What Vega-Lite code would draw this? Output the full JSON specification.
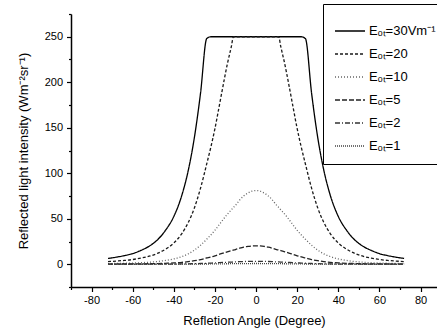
{
  "$schema": "https://vega.github.io/schema/vega-lite/v6.json",
  "width": 366,
  "height": 273,
  "autosize": {"type": "none"},
  "padding": {"left": 71, "top": 14, "right": 0, "bottom": 47},
  "background": "white",
  "config": {
    "view": {"stroke": null},
    "font": "Liberation Sans",
    "axis": {"domainColor": "black", "tickColor": "black", "labelColor": "black", "titleColor": "black", "grid": false, "labelFontSize": 11, "titleFontSize": 13, "titleFontWeight": "normal", "domainWidth": 1.5, "tickWidth": 1.2}
  },
  "data": {"values": [
    {"x": -72, "30": 6.4, "20": 2.9, "10": 0.71, "5": 0.18, "2": 0.03, "1": 0.007},
    {"x": -68, "30": 7.8, "20": 3.5, "10": 0.87, "5": 0.22, "2": 0.035, "1": 0.009},
    {"x": -64, "30": 9.5, "20": 4.2, "10": 1.06, "5": 0.27, "2": 0.04, "1": 0.011},
    {"x": -60, "30": 11.7, "20": 5.2, "10": 1.3, "5": 0.32, "2": 0.05, "1": 0.013},
    {"x": -56, "30": 15.2, "20": 6.8, "10": 1.7, "5": 0.42, "2": 0.07, "1": 0.017},
    {"x": -52, "30": 19.8, "20": 8.8, "10": 2.2, "5": 0.55, "2": 0.09, "1": 0.022},
    {"x": -48, "30": 26.7, "20": 11.9, "10": 3.0, "5": 0.74, "2": 0.12, "1": 0.03},
    {"x": -44, "30": 37.4, "20": 16.6, "10": 4.2, "5": 1.04, "2": 0.17, "1": 0.042},
    {"x": -40, "30": 52.5, "20": 23.3, "10": 5.8, "5": 1.46, "2": 0.23, "1": 0.058},
    {"x": -36, "30": 76.5, "20": 34.0, "10": 8.5, "5": 2.1, "2": 0.34, "1": 0.085},
    {"x": -33, "30": 102.8, "20": 45.7, "10": 11.4, "5": 2.9, "2": 0.46, "1": 0.11},
    {"x": -30, "30": 139.2, "20": 61.9, "10": 15.5, "5": 3.9, "2": 0.62, "1": 0.15},
    {"x": -27, "30": 188.1, "20": 83.6, "10": 20.9, "5": 5.2, "2": 0.84, "1": 0.21},
    {"x": -24, "30": 248, "20": 110.2, "10": 27.5, "5": 6.9, "2": 1.1, "1": 0.28},
    {"x": -22, "30": 250, "20": 128.6, "10": 32.2, "5": 8.0, "2": 1.29, "1": 0.32},
    {"x": -20, "30": 250, "20": 149, "10": 37.3, "5": 9.3, "2": 1.49, "1": 0.37},
    {"x": -18, "30": 250, "20": 172.7, "10": 43.2, "5": 10.8, "2": 1.73, "1": 0.43},
    {"x": -16, "30": 250, "20": 196.7, "10": 49.2, "5": 12.3, "2": 1.97, "1": 0.49},
    {"x": -14, "30": 250, "20": 219.7, "10": 54.9, "5": 13.7, "2": 2.2, "1": 0.55},
    {"x": -12, "30": 250, "20": 239.4, "10": 59.9, "5": 15.0, "2": 2.39, "1": 0.6},
    {"x": -11, "30": 250, "20": 250, "10": 62.5, "5": 15.6, "2": 2.5, "1": 0.63},
    {"x": -10, "30": 250, "20": 250, "10": 64.8, "5": 16.2, "2": 2.59, "1": 0.65},
    {"x": -8, "30": 250, "20": 250, "10": 70.5, "5": 17.6, "2": 2.82, "1": 0.7},
    {"x": -6, "30": 250, "20": 250, "10": 75, "5": 18.8, "2": 3.0, "1": 0.75},
    {"x": -4, "30": 250, "20": 250, "10": 78.2, "5": 19.6, "2": 3.13, "1": 0.78},
    {"x": -2, "30": 250, "20": 250, "10": 80.3, "5": 20.1, "2": 3.21, "1": 0.8},
    {"x": 0, "30": 250, "20": 250, "10": 81, "5": 20.3, "2": 3.24, "1": 0.81},
    {"x": 2, "30": 250, "20": 250, "10": 80.3, "5": 20.1, "2": 3.21, "1": 0.8},
    {"x": 4, "30": 250, "20": 250, "10": 78.2, "5": 19.6, "2": 3.13, "1": 0.78},
    {"x": 6, "30": 250, "20": 250, "10": 75, "5": 18.8, "2": 3.0, "1": 0.75},
    {"x": 8, "30": 250, "20": 250, "10": 70.5, "5": 17.6, "2": 2.82, "1": 0.7},
    {"x": 10, "30": 250, "20": 250, "10": 64.8, "5": 16.2, "2": 2.59, "1": 0.65},
    {"x": 11, "30": 250, "20": 250, "10": 62.5, "5": 15.6, "2": 2.5, "1": 0.63},
    {"x": 12, "30": 250, "20": 239.4, "10": 59.9, "5": 15.0, "2": 2.39, "1": 0.6},
    {"x": 14, "30": 250, "20": 219.7, "10": 54.9, "5": 13.7, "2": 2.2, "1": 0.55},
    {"x": 16, "30": 250, "20": 196.7, "10": 49.2, "5": 12.3, "2": 1.97, "1": 0.49},
    {"x": 18, "30": 250, "20": 172.7, "10": 43.2, "5": 10.8, "2": 1.73, "1": 0.43},
    {"x": 20, "30": 250, "20": 149, "10": 37.3, "5": 9.3, "2": 1.49, "1": 0.37},
    {"x": 22, "30": 250, "20": 128.6, "10": 32.2, "5": 8.0, "2": 1.29, "1": 0.32},
    {"x": 24, "30": 248, "20": 110.2, "10": 27.5, "5": 6.9, "2": 1.1, "1": 0.28},
    {"x": 27, "30": 188.1, "20": 83.6, "10": 20.9, "5": 5.2, "2": 0.84, "1": 0.21},
    {"x": 30, "30": 139.2, "20": 61.9, "10": 15.5, "5": 3.9, "2": 0.62, "1": 0.15},
    {"x": 33, "30": 102.8, "20": 45.7, "10": 11.4, "5": 2.9, "2": 0.46, "1": 0.11},
    {"x": 36, "30": 76.5, "20": 34.0, "10": 8.5, "5": 2.1, "2": 0.34, "1": 0.085},
    {"x": 40, "30": 52.5, "20": 23.3, "10": 5.8, "5": 1.46, "2": 0.23, "1": 0.058},
    {"x": 44, "30": 37.4, "20": 16.6, "10": 4.2, "5": 1.04, "2": 0.17, "1": 0.042},
    {"x": 48, "30": 26.7, "20": 11.9, "10": 3.0, "5": 0.74, "2": 0.12, "1": 0.03},
    {"x": 52, "30": 19.8, "20": 8.8, "10": 2.2, "5": 0.55, "2": 0.09, "1": 0.022},
    {"x": 56, "30": 15.2, "20": 6.8, "10": 1.7, "5": 0.42, "2": 0.07, "1": 0.017},
    {"x": 60, "30": 11.7, "20": 5.2, "10": 1.3, "5": 0.32, "2": 0.05, "1": 0.013},
    {"x": 64, "30": 9.5, "20": 4.2, "10": 1.06, "5": 0.27, "2": 0.04, "1": 0.011},
    {"x": 68, "30": 7.8, "20": 3.5, "10": 0.87, "5": 0.22, "2": 0.035, "1": 0.009},
    {"x": 72, "30": 6.4, "20": 2.9, "10": 0.71, "5": 0.18, "2": 0.03, "1": 0.007}
  ]},
  "transform": [{"fold": ["30", "20", "10", "5", "2", "1"], "as": ["series", "value"]}],
  "mark": {"type": "line", "interpolate": "monotone", "strokeWidth": 1.3, "clip": true},
  "encoding": {
    "x": {"field": "x", "type": "quantitative",
      "scale": {"domain": [-90, 88], "nice": false, "zero": false},
      "axis": {"values": [-90, -80, -70, -60, -50, -40, -30, -20, -10, 0, 10, 20, 30, 40, 50, 60, 70, 80],
        "labelExpr": "datum.value % 20 === 0 ? '' + datum.value : ''",
        "tickSize": {"condition": {"test": "datum.value % 20 !== 0", "value": 2.5}, "value": 4.5},
        "labelPadding": 3, "labelFlush": false, "labelOverlap": false,
        "title": "Refletion Angle (Degree)", "titlePadding": 9}},
    "y": {"field": "value", "type": "quantitative",
      "scale": {"domain": [-25, 275], "nice": false, "zero": false},
      "axis": {"values": [-25, 0, 25, 50, 75, 100, 125, 150, 175, 200, 225, 250, 275],
        "labelExpr": "datum.value % 50 === 0 ? '' + datum.value : ''",
        "tickSize": {"condition": {"test": "datum.value % 50 !== 0", "value": 2.5}, "value": 4.5},
        "labelPadding": 4, "labelFlush": false, "labelOverlap": false,
        "title": "Reflected light intensity (Wm⁻²sr⁻¹)", "titlePadding": 14}},
    "color": {"field": "series", "type": "nominal",
      "scale": {"domain": ["30", "20", "10", "5", "2", "1"], "range": ["#000000", "#1a1a1a", "#666666", "#222222", "#333333", "#444444"]},
      "legend": {"title": null, "orient": "none", "legendX": 252, "legendY": -10,
        "strokeColor": "black", "fillColor": "white", "padding": 11,
        "symbolType": "stroke", "symbolSize": 900, "symbolStrokeWidth": 1.3,
        "labelFontSize": 13, "labelOffset": 3, "rowPadding": -9, "labelColor": "black",
        "labelExpr": "'Eₒₜ=' + datum.label + (datum.label == '30' ? 'Vm⁻¹' : '')"}},
    "strokeDash": {"field": "series", "type": "nominal",
      "scale": {"domain": ["30", "20", "10", "5", "2", "1"], "range": [[1, 0], [3, 2], [1, 2], [5, 2], [5, 2, 1, 2], [1, 1]]},
      "legend": {"title": null, "orient": "none", "legendX": 252, "legendY": -10,
        "strokeColor": "black", "fillColor": "white", "padding": 11,
        "symbolType": "stroke", "symbolSize": 900, "symbolStrokeWidth": 1.3,
        "labelFontSize": 13, "labelOffset": 3, "rowPadding": -9, "labelColor": "black",
        "labelExpr": "'Eₒₜ=' + datum.label + (datum.label == '30' ? 'Vm⁻¹' : '')"}}
  }
}
